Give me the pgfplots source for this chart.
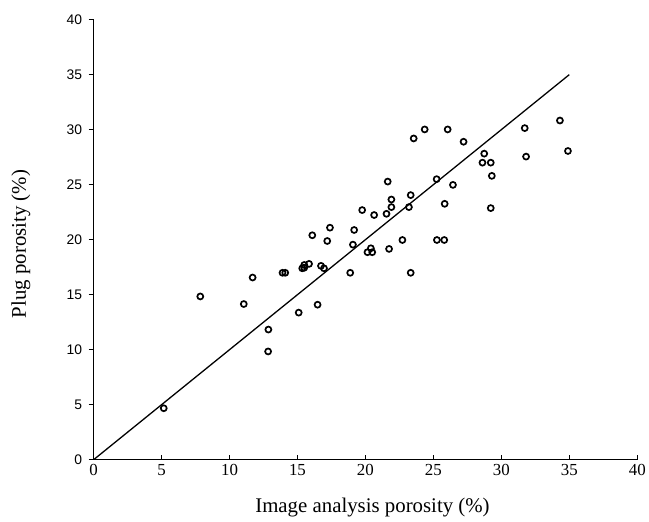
\documentclass[border=0pt]{standalone}
\usepackage{fontspec}
\setmainfont{Liberation Serif}
\newfontfamily\arialf{Liberation Sans}
\usepackage{pgfplots}
\pgfplotsset{compat=1.18}

\begin{document}
\begin{tikzpicture}
\begin{axis}[
  at={(0,0)}, anchor=south west,
  scale only axis,
  width=546bp, height=442bp,
  xmin=0, xmax=40, ymin=0, ymax=40,
  xtick={0,5,...,40}, ytick={0,5,...,40},
  axis lines*=left,
  axis line style={line width=1.4pt},
  tick style={line width=1.2pt, black},
  major tick length=5bp,
  xtick align=inside, ytick align=outside,
  /pgf/number format/assume math mode=true,
  xticklabel style={font=\fontsize{17}{17}\selectfont, yshift=-1bp},
  yticklabel style={font=\fontsize{14}{14}\arialf, xshift=-3bp},
  xlabel={Image analysis porosity (\%)},
  ylabel={Plug porosity (\%)},
  xlabel style={font=\fontsize{21}{21}\selectfont, at={(axis description cs:0.513,0)}, anchor=center, yshift=-48bp},
  ylabel style={font=\fontsize{21}{21}\selectfont, at={(axis description cs:0,0.49)}, anchor=center, yshift=73bp},
]
\addplot[black, line width=1.3pt] coordinates {(0,0) (35,35)};
\addplot[only marks, mark=o, mark size=3bp, mark options={line width=1.7pt, black}] coordinates {
  (5.16,4.68) (7.85,14.84) (11.05,14.15) (11.7,16.56) (12.86,11.83) (12.84,9.84)
  (13.9,16.99) (14.1,16.99) (15.09,13.37)
  (15.35,17.4) (15.5,17.7) (15.85,17.8) (15.5,17.45)
  (16.09,20.4) (16.48,14.09) (17.19,19.88) (17.39,21.09)
  (16.73,17.62) (16.95,17.4) (18.88,16.99) (19.08,19.55) (19.17,20.88)
  (19.76,22.69) (20.64,22.24) (20.15,18.86) (20.4,19.22) (20.5,18.86)
  (21.55,22.35) (21.64,25.28) (21.91,23.65) (21.91,22.96) (21.74,19.16)
  (22.72,19.97) (23.2,22.96) (23.33,24.05) (23.33,16.99) (23.55,29.2)
  (24.36,30.02) (26.05,30.02) (27.22,28.9) (25.24,25.5) (26.44,24.98)
  (25.83,23.26) (25.26,19.97) (25.8,19.97) (28.74,27.82) (28.61,27.0)
  (29.22,27.0) (29.3,25.8) (29.22,22.87) (31.72,30.14) (31.82,27.55)
  (34.31,30.83) (34.9,28.06)
};
\end{axis}
\path (-94bp,-62.3bp) rectangle (555bp,461.7bp);
\end{tikzpicture}
\end{document}
